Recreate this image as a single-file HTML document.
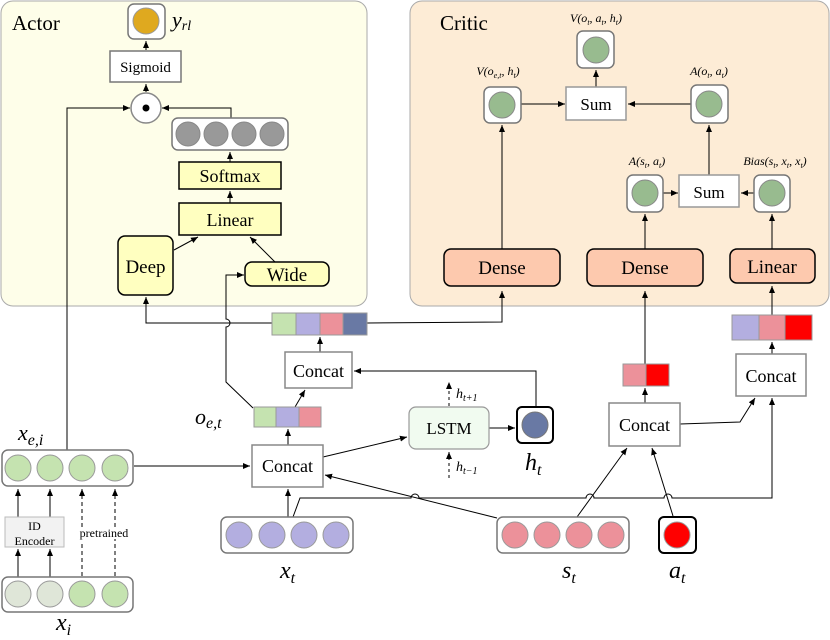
<!DOCTYPE html>
<html><head><meta charset="utf-8"><style>
html,body{margin:0;padding:0;background:#fff}
svg{display:block;font-family:"Liberation Serif","DejaVu Serif",serif}
svg text{font-family:"Liberation Serif","DejaVu Serif",serif;fill:#000}
.it{font-style:italic}
</style></head><body>
<svg width="830" height="640" viewBox="0 0 830 640" xmlns="http://www.w3.org/2000/svg" font-family="Liberation Serif, DejaVu Serif, serif">
<defs>
<marker id="a" markerWidth="8" markerHeight="8" refX="7" refY="3" orient="auto" markerUnits="userSpaceOnUse"><path d="M0,0 L7,3 L0,6 z" fill="#000"/></marker>
</defs>
<rect x="1" y="1" width="366" height="305" rx="12" fill="#fefee9" stroke="#aaa"/>
<rect x="410" y="1" width="419" height="305" rx="12" fill="#fdecd6" stroke="#aaa"/>
<text x="12" y="30" font-size="21" font-family="Liberation Serif, serif">Actor</text>
<text x="440" y="30" font-size="21" font-family="Liberation Serif, serif">Critic</text>

<g stroke="#000" stroke-width="1" fill="none">
<line x1="146" y1="50" x2="146" y2="41" marker-end="url(#a)"/>
<line x1="146" y1="92" x2="146" y2="84" marker-end="url(#a)"/>
<polyline points="67,450 67,108 130,108" marker-end="url(#a)"/>
<polyline points="231,118 231,108 162,108" marker-end="url(#a)"/>
<line x1="230" y1="162" x2="230" y2="152" marker-end="url(#a)"/>
<line x1="230" y1="203" x2="230" y2="191" marker-end="url(#a)"/>
<line x1="174" y1="250" x2="198" y2="237" marker-end="url(#a)"/>
<line x1="275" y1="262" x2="250" y2="237" marker-end="url(#a)"/>
<polyline points="272,323 146,323 146,297" marker-end="url(#a)"/>
<path d="M253,408 L226,382 L226,327 A4,4 0 0 0 226,319 L226,275 L244,275" marker-end="url(#a)"/>
<polyline points="367,323 502,322 502,291" marker-end="url(#a)"/>
<line x1="320" y1="352" x2="320" y2="337" marker-end="url(#a)"/>
<line x1="295" y1="407" x2="305" y2="390" marker-end="url(#a)"/>
<polyline points="536,407 536,371 354,371" marker-end="url(#a)"/>
<line x1="288" y1="445" x2="288" y2="429" marker-end="url(#a)"/>
<line x1="134" y1="466" x2="250" y2="466" marker-end="url(#a)"/>
<line x1="323" y1="457" x2="407" y2="437" marker-end="url(#a)"/>
<line x1="489" y1="428" x2="515" y2="428" marker-end="url(#a)"/>
<line x1="449" y1="406" x2="449" y2="382" stroke-dasharray="3,3" marker-end="url(#a)"/>
<line x1="449" y1="478" x2="449" y2="452" stroke-dasharray="3,3" marker-end="url(#a)"/>
<line x1="288" y1="517" x2="288" y2="489" marker-end="url(#a)"/>
<path d="M293,517 L300,498 L411,498 A4,4 0 0 1 419,498 L586,498 A4,4 0 0 1 594,498 L664,498 A4,4 0 0 1 672,498 L772,498 L772,398" marker-end="url(#a)"/>
<line x1="497" y1="518" x2="325" y2="475" marker-end="url(#a)"/>
<line x1="577" y1="517" x2="627" y2="448" marker-end="url(#a)"/>
<line x1="673" y1="516" x2="652" y2="448" marker-end="url(#a)"/>
<line x1="645" y1="403" x2="645" y2="388" marker-end="url(#a)"/>
<line x1="645" y1="364" x2="645" y2="291" marker-end="url(#a)"/>
<polyline points="680,424 740,422 755,398" marker-end="url(#a)"/>
<line x1="772" y1="354" x2="772" y2="342" marker-end="url(#a)"/>
<line x1="772" y1="315" x2="772" y2="286" marker-end="url(#a)"/>
<line x1="502" y1="249" x2="502" y2="125" marker-end="url(#a)"/>
<line x1="521" y1="104" x2="565" y2="104" marker-end="url(#a)"/>
<line x1="691" y1="104" x2="628" y2="104" marker-end="url(#a)"/>
<line x1="596" y1="87" x2="596" y2="70" marker-end="url(#a)"/>
<line x1="709" y1="175" x2="709" y2="125" marker-end="url(#a)"/>
<line x1="663" y1="193" x2="678" y2="193" marker-end="url(#a)"/>
<line x1="754" y1="193" x2="741" y2="193" marker-end="url(#a)"/>
<line x1="645" y1="249" x2="645" y2="214" marker-end="url(#a)"/>
<line x1="772" y1="249" x2="772" y2="214" marker-end="url(#a)"/>
<line x1="18" y1="577" x2="18" y2="549" marker-end="url(#a)"/>
<line x1="50" y1="577" x2="50" y2="549" marker-end="url(#a)"/>
<line x1="18" y1="517" x2="18" y2="489" marker-end="url(#a)"/>
<line x1="50" y1="517" x2="50" y2="489" marker-end="url(#a)"/>
<line x1="82" y1="576" x2="82" y2="489" stroke-dasharray="4,3" marker-end="url(#a)"/>
<line x1="115" y1="576" x2="115" y2="489" stroke-dasharray="4,3" marker-end="url(#a)"/>
</g>

<rect x="128" y="4" width="37" height="35" rx="6" fill="#fff" stroke="#777" stroke-width="1.5"/>
<circle cx="146" cy="21" r="13" fill="#dfa91f" stroke="#999"/>
<text x="172" y="27" font-size="22" class="it">y<tspan font-size="14" dy="3">rl</tspan></text>
<rect x="110" y="51" width="71" height="31" fill="#fff" stroke="#777" stroke-width="1.5"/>
<text x="145.5" y="72" font-size="15" text-anchor="middle">Sigmoid</text>
<circle cx="146" cy="108" r="15" fill="#fff" stroke="#888" stroke-width="1.5"/>
<circle cx="146" cy="108" r="3.5" fill="#000"/>
<rect x="172" y="118" width="116" height="32" rx="6" fill="#fff" stroke="#777" stroke-width="1.5"/>
<g fill="#999" stroke="#888"><circle cx="188" cy="134" r="12"/><circle cx="216" cy="134" r="12"/><circle cx="244" cy="134" r="12"/><circle cx="272" cy="134" r="12"/></g>
<rect x="179" y="162" width="102" height="27" fill="#ffffc0" stroke="#000" stroke-width="1.5"/>
<text x="230" y="182" font-size="18" text-anchor="middle">Softmax</text>
<rect x="179" y="203" width="102" height="32" fill="#ffffc0" stroke="#000" stroke-width="1.5"/>
<text x="230" y="226" font-size="18" text-anchor="middle">Linear</text>
<rect x="118" y="236" width="55" height="59" rx="7" fill="#ffffc0" stroke="#000" stroke-width="1.5"/>
<text x="145.5" y="273" font-size="19" text-anchor="middle">Deep</text>
<rect x="245" y="262" width="84" height="24" rx="7" fill="#ffffc0" stroke="#000" stroke-width="1.5"/>
<text x="287" y="281" font-size="19" text-anchor="middle">Wide</text>

<g stroke="#999">
<rect x="272" y="313" width="24" height="22" fill="#c5e3b0"/><rect x="296" y="313" width="24" height="22" fill="#b3aee0"/><rect x="320" y="313" width="23" height="22" fill="#ec919a"/><rect x="343" y="313" width="24" height="22" fill="#6979a4"/>
<rect x="254" y="407" width="22" height="20" fill="#c5e3b0"/><rect x="276" y="407" width="23" height="20" fill="#b3aee0"/><rect x="299" y="407" width="22" height="20" fill="#ec919a"/>
<rect x="623" y="364" width="23" height="22" fill="#ec919a"/><rect x="646" y="364" width="23" height="22" fill="#ff0000"/>
<rect x="732" y="315" width="27" height="25" fill="#b3aee0"/><rect x="759" y="315" width="26" height="25" fill="#ec919a"/><rect x="785" y="315" width="27" height="25" fill="#ff0000"/>
</g>
<text x="195" y="424" font-size="22" class="it">o<tspan font-size="16" dy="4">e,t</tspan></text>

<g fill="#fff" stroke="#888" stroke-width="1.5">
<rect x="285" y="352" width="67" height="36"/>
<rect x="252" y="445" width="71" height="42"/>
<rect x="609" y="403" width="71" height="43"/>
<rect x="736" y="354" width="70" height="42"/>
</g>
<g font-size="18" text-anchor="middle">
<text x="318.5" y="377">Concat</text>
<text x="287.5" y="472">Concat</text>
<text x="644.5" y="431">Concat</text>
<text x="771" y="382">Concat</text>
</g>

<rect x="409" y="407" width="80" height="42" rx="7" fill="#f1fbf0" stroke="#999" stroke-width="1.2"/>
<text x="449" y="434" font-size="17" text-anchor="middle">LSTM</text>
<text x="456" y="398" font-size="14" class="it">h<tspan font-size="10" dy="3">t+1</tspan></text>
<text x="456" y="471" font-size="14" class="it">h<tspan font-size="10" dy="3">t−1</tspan></text>
<rect x="517" y="407" width="36" height="36" rx="5" fill="#fff" stroke="#000" stroke-width="2"/>
<circle cx="535" cy="425" r="13" fill="#6979a4" stroke="#777"/>
<text x="525" y="470" font-size="24" class="it">h<tspan font-size="16" dy="5">t</tspan></text>

<rect x="2" y="450" width="131" height="36" rx="6" fill="#fff" stroke="#777" stroke-width="1.5"/>
<g fill="#c5e3b0" stroke="#999"><circle cx="18" cy="468" r="13"/><circle cx="50" cy="468" r="13"/><circle cx="82" cy="468" r="13"/><circle cx="115" cy="468" r="13"/></g>
<text x="18" y="440" font-size="22" class="it">x<tspan font-size="16" dy="5">e,i</tspan></text>
<rect x="5" y="517" width="59" height="30" fill="#f2f2f2" stroke="#bbb"/>
<text x="34.5" y="530" font-size="12" text-anchor="middle">ID</text>
<text x="34.5" y="545" font-size="12" text-anchor="middle">Encoder</text>
<text x="104" y="537" font-size="12" text-anchor="middle" style="paint-order:stroke" stroke="#fff" stroke-width="4">pretrained</text>
<rect x="2" y="577" width="131" height="35" rx="6" fill="#fff" stroke="#777" stroke-width="1.5"/>
<g stroke="#999"><circle cx="18" cy="594" r="13" fill="#dfe6d8"/><circle cx="50" cy="594" r="13" fill="#dfe6d8"/><circle cx="82" cy="594" r="13" fill="#c5e3b0"/><circle cx="115" cy="594" r="13" fill="#c5e3b0"/></g>
<text x="56" y="630" font-size="24" class="it">x<tspan font-size="16" dy="5">i</tspan></text>

<rect x="221" y="517" width="132" height="36" rx="6" fill="#fff" stroke="#777" stroke-width="1.5"/>
<g fill="#b3aee0" stroke="#999"><circle cx="239" cy="535" r="13"/><circle cx="272" cy="535" r="13"/><circle cx="304" cy="535" r="13"/><circle cx="336" cy="535" r="13"/></g>
<text x="280" y="578" font-size="24" class="it">x<tspan font-size="16" dy="5">t</tspan></text>
<rect x="497" y="517" width="132" height="36" rx="6" fill="#fff" stroke="#777" stroke-width="1.5"/>
<g fill="#ec919a" stroke="#999"><circle cx="515" cy="535" r="13"/><circle cx="547" cy="535" r="13"/><circle cx="579" cy="535" r="13"/><circle cx="611" cy="535" r="13"/></g>
<text x="562" y="578" font-size="24" class="it">s<tspan font-size="16" dy="5">t</tspan></text>
<rect x="659" y="517" width="37" height="36" rx="5" fill="#fff" stroke="#000" stroke-width="2"/>
<circle cx="677" cy="535" r="13" fill="#ff0000" stroke="#999"/>
<text x="669" y="578" font-size="24" class="it">a<tspan font-size="16" dy="5">t</tspan></text>

<g fill="#fdc9ae" stroke="#000" stroke-width="1.5">
<rect x="444" y="249" width="116" height="37" rx="7"/>
<rect x="587" y="249" width="116" height="37" rx="7"/>
<rect x="730" y="249" width="85" height="34" rx="7"/>
</g>
<g font-size="19" text-anchor="middle">
<text x="502" y="274">Dense</text><text x="645" y="274">Dense</text><text x="772" y="273">Linear</text>
</g>
<g fill="#fff" stroke="#777" stroke-width="1.5">
<rect x="484" y="87" width="37" height="36" rx="6"/>
<rect x="577" y="31" width="37" height="37" rx="6"/>
<rect x="691" y="85" width="37" height="38" rx="6"/>
<rect x="627" y="175" width="36" height="37" rx="6"/>
<rect x="754" y="175" width="36" height="37" rx="6"/>
</g>
<g fill="#98bb8f" stroke="#888">
<circle cx="502" cy="105" r="13"/><circle cx="596" cy="50" r="13"/><circle cx="709" cy="104" r="13"/><circle cx="645" cy="193" r="13"/><circle cx="772" cy="193" r="13"/>
</g>
<g fill="#fff" stroke="#999" stroke-width="1.5">
<rect x="566" y="87" width="60" height="33"/>
<rect x="679" y="175" width="60" height="32"/>
</g>
<text x="596" y="110" font-size="17" text-anchor="middle">Sum</text>
<text x="709" y="198" font-size="17" text-anchor="middle">Sum</text>
<g font-size="12" class="it" text-anchor="middle">
<text x="498" y="75">V(o<tspan font-size="8" dy="3">e,t</tspan><tspan dy="-3">, h</tspan><tspan font-size="8" dy="3">t</tspan><tspan dy="-3">)</tspan></text>
<text x="596" y="22">V(o<tspan font-size="8" dy="3">t</tspan><tspan dy="-3">, a</tspan><tspan font-size="8" dy="3">t</tspan><tspan dy="-3">, h</tspan><tspan font-size="8" dy="3">t</tspan><tspan dy="-3">)</tspan></text>
<text x="709" y="75">A(o<tspan font-size="8" dy="3">t</tspan><tspan dy="-3">, a</tspan><tspan font-size="8" dy="3">t</tspan><tspan dy="-3">)</tspan></text>
<text x="647" y="165">A(s<tspan font-size="8" dy="3">t</tspan><tspan dy="-3">, a</tspan><tspan font-size="8" dy="3">t</tspan><tspan dy="-3">)</tspan></text>
<text x="775" y="165">Bias(s<tspan font-size="8" dy="3">t</tspan><tspan dy="-3">, x</tspan><tspan font-size="8" dy="3">t</tspan><tspan dy="-3">, x</tspan><tspan font-size="8" dy="3">t</tspan><tspan dy="-3">)</tspan></text>
</g>
</svg>
</body></html>
